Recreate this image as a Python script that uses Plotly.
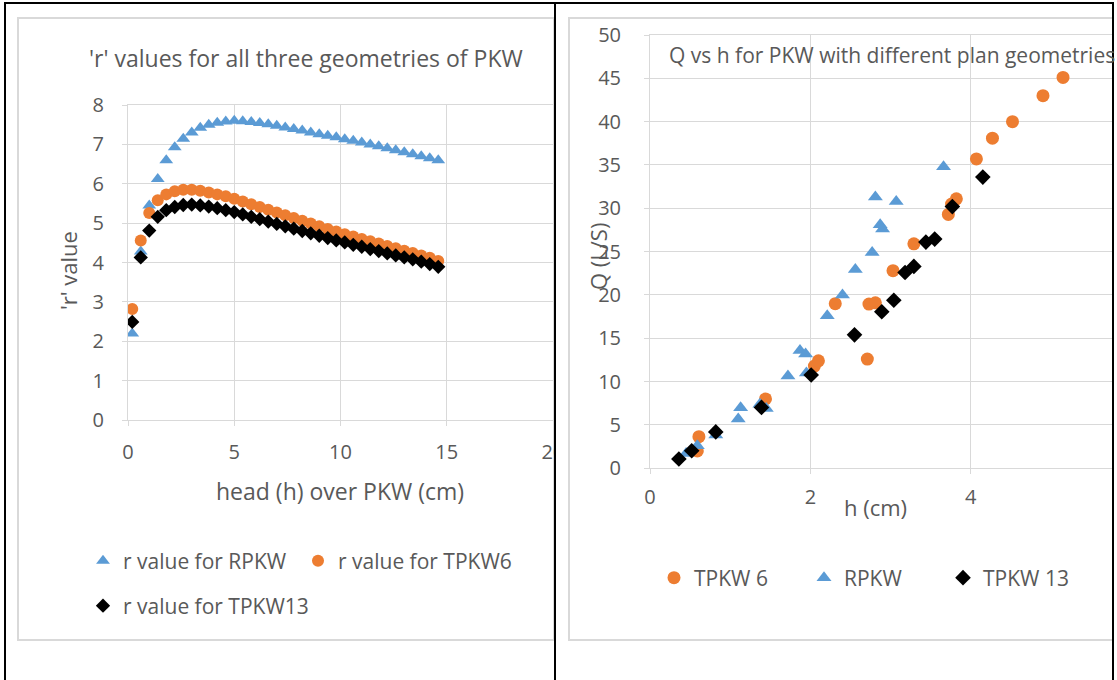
import plotly.graph_objects as go

W, H = 1117, 680

# ---------------- Left chart data: 'r' values vs head ----------------
head_cm = [0.2, 0.6, 1.0, 1.4, 1.8, 2.2, 2.6, 3.0, 3.4, 3.8, 4.2, 4.6, 5.0, 5.4, 5.8,
           6.2, 6.6, 7.0, 7.4, 7.8, 8.2, 8.6, 9.0, 9.4, 9.8, 10.2, 10.6, 11.0, 11.4,
           11.8, 12.2, 12.6, 13.0, 13.4, 13.8, 14.2, 14.6]
r_rpkw = [2.2, 4.28, 5.45, 6.12, 6.6, 6.93, 7.14, 7.3, 7.42, 7.5, 7.55, 7.58, 7.6, 7.59,
          7.57, 7.54, 7.51, 7.47, 7.43, 7.39, 7.35, 7.3, 7.26, 7.22, 7.18, 7.13, 7.09,
          7.05, 7.0, 6.95, 6.9, 6.85, 6.8, 6.75, 6.7, 6.65, 6.6]
r_tpkw6 = [2.82, 4.56, 5.26, 5.58, 5.73, 5.81, 5.85, 5.85, 5.82, 5.78, 5.73, 5.68, 5.62,
           5.55, 5.48, 5.41, 5.34, 5.27, 5.2, 5.13, 5.06, 4.99, 4.92, 4.85, 4.79, 4.72,
           4.66, 4.6, 4.54, 4.48, 4.42, 4.36, 4.3, 4.24, 4.18, 4.12, 4.04]
r_tpkw13 = [2.49, 4.13, 4.81, 5.16, 5.33, 5.41, 5.46, 5.47, 5.45, 5.42, 5.38, 5.33, 5.28,
            5.22, 5.16, 5.1, 5.04, 4.98, 4.92, 4.86, 4.8, 4.74, 4.68, 4.62, 4.56, 4.51,
            4.45, 4.4, 4.34, 4.29, 4.23, 4.18, 4.13, 4.08, 4.02, 3.96, 3.89]

# ---------------- Right chart data: Q vs h ----------------
h_tpkw6 = [0.59, 0.61, 1.44, 2.05, 2.10, 2.31, 2.71, 2.73, 2.81, 3.03, 3.29, 3.72, 3.76,
           3.82, 4.07, 4.27, 4.52, 4.90, 5.15]
q_tpkw6 = [2.0, 3.65, 8.0, 11.8, 12.4, 19.0, 12.6, 18.95, 19.1, 22.8, 25.9, 29.3, 30.5,
           31.1, 35.7, 38.1, 40.0, 43.0, 45.1]
h_rpkw = [0.45, 0.59, 0.82, 1.10, 1.13, 1.37, 1.45, 1.72, 1.87, 1.94, 1.95, 2.21, 2.40,
          2.56, 2.77, 2.81, 2.87, 2.90, 3.07, 3.66]
q_rpkw = [1.7, 2.6, 3.85, 5.7, 7.0, 7.4, 6.9, 10.65, 13.6, 13.2, 11.0, 17.6, 20.0,
          22.95, 24.9, 31.3, 28.1, 27.6, 30.8, 34.8]
h_tpkw13 = [0.36, 0.52, 0.82, 1.39, 2.01, 2.55, 2.89, 3.04, 3.18, 3.29, 3.44, 3.55, 3.77, 4.15]
q_tpkw13 = [1.07, 2.03, 4.2, 7.03, 10.76, 15.4, 18.06, 19.4, 22.6, 23.3, 26.1, 26.45, 30.2, 33.6]

BLUE = "#5B9BD5"
ORANGE = "#ED7D31"
BLACK = "#000000"
TXT = "#595959"
GRID = "#D9D9D9"
FONT = "Open Sans"


def px(x):
    return x / W


def py(y):
    return 1 - y / H


fig = go.Figure()

# left chart traces
fig.add_trace(go.Scatter(x=head_cm, y=r_rpkw, mode="markers", name="r value for RPKW",
                         marker=dict(symbol="triangle-up", size=12, color=BLUE),
                         xaxis="x", yaxis="y", legend="legend"))
fig.add_trace(go.Scatter(x=head_cm, y=r_tpkw6, mode="markers", name="r value for TPKW6",
                         marker=dict(symbol="circle", size=12, color=ORANGE),
                         xaxis="x", yaxis="y", legend="legend2"))
fig.add_trace(go.Scatter(x=head_cm, y=r_tpkw13, mode="markers", name="r value for TPKW13",
                         marker=dict(symbol="diamond", size=11, color=BLACK),
                         xaxis="x", yaxis="y", legend="legend3"))

# right chart traces
fig.add_trace(go.Scatter(x=h_tpkw6, y=q_tpkw6, mode="markers", name="TPKW 6",
                         marker=dict(symbol="circle", size=13, color=ORANGE),
                         xaxis="x2", yaxis="y2", legend="legend4"))
fig.add_trace(go.Scatter(x=h_rpkw, y=q_rpkw, mode="markers", name="RPKW",
                         marker=dict(symbol="triangle-up", size=13, color=BLUE),
                         xaxis="x2", yaxis="y2", legend="legend5"))
fig.add_trace(go.Scatter(x=h_tpkw13, y=q_tpkw13, mode="markers", name="TPKW 13",
                         marker=dict(symbol="diamond", size=12, color=BLACK),
                         xaxis="x2", yaxis="y2", legend="legend6"))

axis_common = dict(showgrid=True, gridcolor=GRID, gridwidth=1, zeroline=False,
                   showline=True, linecolor=GRID, linewidth=1, mirror=True,
                   ticks="outside", ticklen=5, tickcolor=GRID, automargin=False,
                   tickfont=dict(family=FONT, size=20, color=TXT), fixedrange=True)

fig.update_layout(
    width=W, height=H, autosize=False, showlegend=True,
    margin=dict(l=0, r=0, t=0, b=0, pad=0, autoexpand=False),
    paper_bgcolor="white", plot_bgcolor="white",
    font=dict(family=FONT, color=TXT),
    xaxis=dict(domain=[px(128), px(553)], range=[0, 20], dtick=5, tick0=0,
               ticklabelstandoff=9, anchor="y", **axis_common),
    yaxis=dict(domain=[py(420), py(105)], range=[0, 8], dtick=1, tick0=0,
               ticklabelstandoff=14, anchor="x", **axis_common),
    xaxis2=dict(domain=[px(650), px(1113)], range=[0, 463 / 80.2], dtick=2, tick0=0,
                ticklabelstandoff=6, anchor="y2", **axis_common),
    yaxis2=dict(domain=[py(468.3), py(35)], range=[0, 50], dtick=5, tick0=0,
                ticklabelstandoff=19, anchor="x2", **axis_common),
)

leg_common = dict(orientation="h", bgcolor="rgba(0,0,0,0)", borderwidth=0, visible=True,
                  font=dict(family=FONT, size=21, color=TXT),
                  xanchor="left", yanchor="middle", itemclick=False, itemdoubleclick=False)
legend_pos = {"legend": (105, 561), "legend2": (320, 561), "legend3": (105, 606),
              "legend4": (676, 578), "legend5": (826, 578), "legend6": (965, 578)}
for key, (lx, ly) in legend_pos.items():
    fig.update_layout({key: dict(x=px(lx - 22), y=py(ly), **leg_common)})

# titles and axis titles as annotations
ann = [
    dict(text="'r' values for all three geometries of PKW", x=px(306), y=py(58), size=23),
    dict(text="Q vs h for PKW with different plan geometries", x=px(667), y=py(55), size=21,
         xanchor="left"),
    dict(text="head (h) over PKW (cm)", x=px(340), y=py(491), size=23),
    dict(text="'r' value", x=px(68), y=py(271), size=22, textangle=-90),
    dict(text="Q (L/S)", x=px(598), y=py(257), size=22, textangle=-90),
    dict(text="h (cm)", x=px(875), y=py(507), size=22),
]
for a in ann:
    fig.add_annotation(text=a["text"], x=a["x"], y=a["y"], xref="paper", yref="paper",
                       xanchor=a.get("xanchor", "center"), yanchor="middle",
                       textangle=a.get("textangle", 0), showarrow=False,
                       font=dict(family=FONT, size=a["size"], color=TXT))

shapes = []
# chart frames (light grey)
shapes.append(dict(type="rect", xref="paper", yref="paper", x0=px(18), x1=px(554),
                   y0=py(640), y1=py(18), line=dict(color=GRID, width=2), layer="below"))
shapes.append(dict(type="rect", xref="paper", yref="paper", x0=px(569), x1=px(1125),
                   y0=py(640), y1=py(18), line=dict(color=GRID, width=2), layer="below"))
# white mask over clipped part of "20" label
shapes.append(dict(type="rect", xref="paper", yref="paper", x0=px(555), x1=px(567),
                   y0=py(475), y1=py(430), fillcolor="white", line=dict(width=0), layer="above"))
shapes.append(dict(type="rect", xref="paper", yref="paper", x0=px(1114), x1=px(1117),
                   y0=py(680), y1=py(0), fillcolor="white", line=dict(width=0), layer="above"))
# black table borders
for (x0, y0, x1, y1) in [(4, 3, 1114, 3), (5, 2, 5, 680), (555, 2, 555, 680), (1113, 2, 1113, 680)]:
    shapes.append(dict(type="line", xref="paper", yref="paper", x0=px(x0), x1=px(x1),
                       y0=py(y0), y1=py(y1), line=dict(color="black", width=2), layer="above"))
fig.update_layout(shapes=shapes)

fig.write_html("out.html", include_plotlyjs=True, config={"displayModeBar": False},
               post_script="document.body.style.margin='0';document.body.style.overflow='hidden';")
